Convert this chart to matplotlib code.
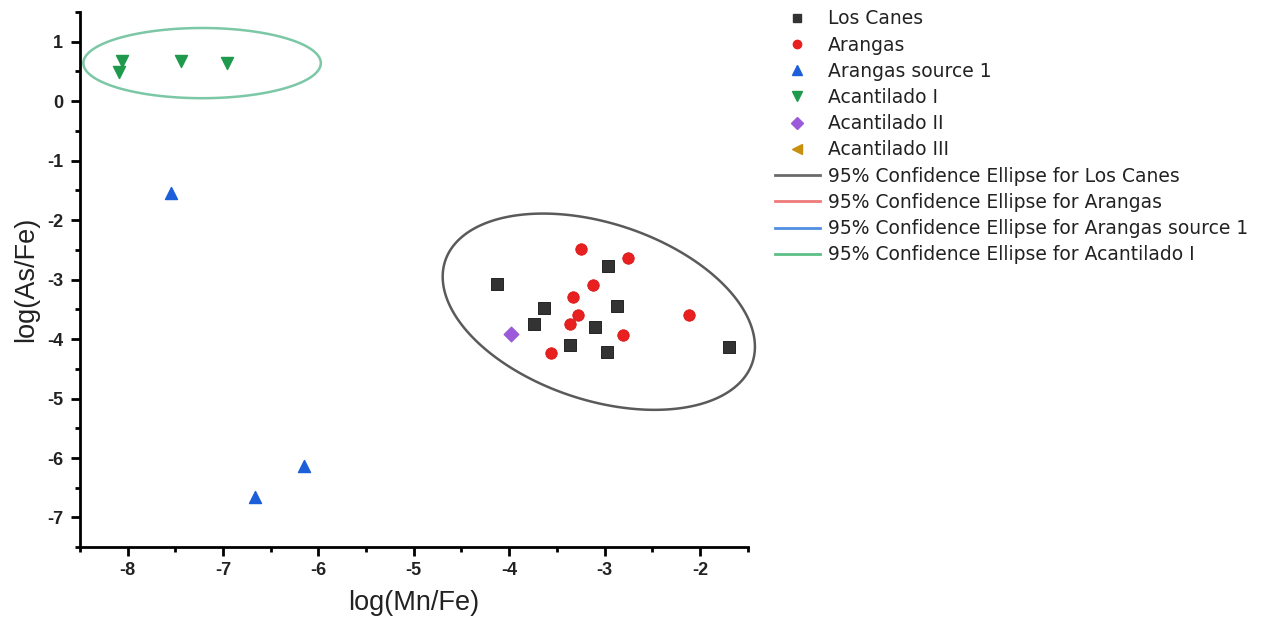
import matplotlib
matplotlib.use("Agg")
import matplotlib.pyplot as plt
from matplotlib.lines import Line2D
import numpy as np

plt.rcParams["font.family"] = ["Liberation Sans", "DejaVu Sans"]

# point data: (log(Mn/Fe), log(As/Fe))
los_canes_x = [-4.13, -2.96, -3.63, -3.74, -2.87, -3.10, -3.36, -2.97, -1.70]
los_canes_y = [-3.07, -2.77, -3.48, -3.75, -3.45, -3.79, -4.10, -4.21, -4.13]

arangas_x = [-3.25, -2.75, -3.12, -3.33, -3.28, -3.36, -2.81, -3.56, -2.11]
arangas_y = [-2.48, -2.64, -3.09, -3.30, -3.59, -3.75, -3.93, -4.24, -3.59]

source1_x = [-7.55, -6.66, -6.15]
source1_y = [-1.55, -6.65, -6.13]

acant1_x = [-8.06, -8.09, -7.44, -6.96]
acant1_y = [0.67, 0.49, 0.67, 0.64]

acant2_x = [-3.98]
acant2_y = [-3.91]

acant3_x = []
acant3_y = []

# confidence ellipses: centre, half-widths along x/y, correlation
los_canes_ell = dict(cx=-3.06, cy=-3.54, hx=1.637, hy=1.65, rho=-0.357)
acant1_ell = dict(cx=-7.22, cy=0.64, hx=1.245, hy=0.59, rho=0.0)


def ellipse_path(cx, cy, hx, hy, rho, n=300):
    cov = np.array([[hx * hx, rho * hx * hy], [rho * hx * hy, hy * hy]])
    chol = np.linalg.cholesky(cov)
    t = np.linspace(0, 2 * np.pi, n, endpoint=False)
    pts = chol @ np.vstack([np.cos(t), np.sin(t)])
    return pts[0] + cx, pts[1] + cy


fig = plt.figure(figsize=(12.74, 6.29), dpi=100)
ax = fig.add_axes([0.0628, 0.130, 0.524, 0.851])

c_black = "#333333"
c_red = "#e82020"
c_blue = "#1d5fd8"
c_green = "#1f9a4c"
c_purple = "#9b5ad9"
c_gold = "#c8900c"

ex, ey = ellipse_path(**los_canes_ell)
ax.fill(ex, ey, fill=False, edgecolor="#5a5a5a", lw=1.8, clip_on=False)
ex, ey = ellipse_path(**acant1_ell)
ax.fill(ex, ey, fill=False, edgecolor="#7cc7a6", lw=1.8, clip_on=False)

ax.scatter(los_canes_x, los_canes_y, marker="s", s=64, color=c_black, edgecolors="#111111", linewidths=0.6, zorder=3)
ax.scatter(arangas_x, arangas_y, marker="o", s=68, color=c_red, edgecolors="#d81818", linewidths=0.6, zorder=3)
ax.scatter(source1_x, source1_y, marker="^", s=75, color=c_blue, zorder=3)
ax.scatter(acant1_x, acant1_y, marker="v", s=75, color=c_green, zorder=3)
ax.scatter(acant2_x, acant2_y, marker="D", s=55, color=c_purple, zorder=3)
ax.scatter(acant3_x, acant3_y, marker="<", s=75, color=c_gold, zorder=3)

ax.set_xlim(-8.5, -1.5)
ax.set_ylim(-7.5, 1.5)
ax.set_xticks(np.arange(-8, -1.5, 1))
ax.set_xticks(np.arange(-8.5, -1.4, 0.5), minor=True)
ax.set_yticks(np.arange(-7, 1.5, 1))
ax.set_yticks(np.arange(-7.5, 1.6, 0.5), minor=True)
ax.set_xticklabels([f"{v:g}" for v in np.arange(-8, -1.5, 1)], fontweight="bold")
ax.set_yticklabels([f"{v:g}" for v in np.arange(-7, 1.5, 1)], fontweight="bold")

for side in ("top", "right"):
    ax.spines[side].set_visible(False)
for side in ("left", "bottom"):
    ax.spines[side].set_linewidth(2.0)
ax.tick_params(which="major", direction="out", length=6.5, width=2, labelsize=13, pad=4,
               labelcolor="#222222")
ax.tick_params(axis="y", which="major", pad=5.5)
ax.tick_params(which="minor", direction="out", length=3.5, width=2)

ax.set_xlabel("log(Mn/Fe)", fontsize=19.5, labelpad=8, color="#222222")
ax.set_ylabel("log(As/Fe)", fontsize=19.5, labelpad=6, color="#222222")

handles = [
    Line2D([], [], ls="none", marker="s", ms=6, color=c_black),
    Line2D([], [], ls="none", marker="o", ms=6, color=c_red),
    Line2D([], [], ls="none", marker="^", ms=7, color=c_blue),
    Line2D([], [], ls="none", marker="v", ms=7, color=c_green),
    Line2D([], [], ls="none", marker="D", ms=6, color=c_purple),
    Line2D([], [], ls="none", marker="<", ms=7, color=c_gold),
    Line2D([], [], color="#6a6a6a", lw=2),
    Line2D([], [], color="#f07a7a", lw=2),
    Line2D([], [], color="#4f8ee0", lw=2),
    Line2D([], [], color="#5cbf85", lw=2),
]
labels = [
    "Los Canes",
    "Arangas",
    "Arangas source 1",
    "Acantilado I",
    "Acantilado II",
    "Acantilado III",
    "95% Confidence Ellipse for Los Canes",
    "95% Confidence Ellipse for Arangas",
    "95% Confidence Ellipse for Arangas source 1",
    "95% Confidence Ellipse for Acantilado I",
]
fig.legend(handles, labels, loc="upper left", bbox_to_anchor=(0.595, 1.012),
           frameon=False, prop={"family": "DejaVu Sans", "size": 13.5},
           handlelength=2.4, handletextpad=0.45, labelspacing=0.385,
           labelcolor="#222222")

fig.savefig("out.png", dpi=100)
